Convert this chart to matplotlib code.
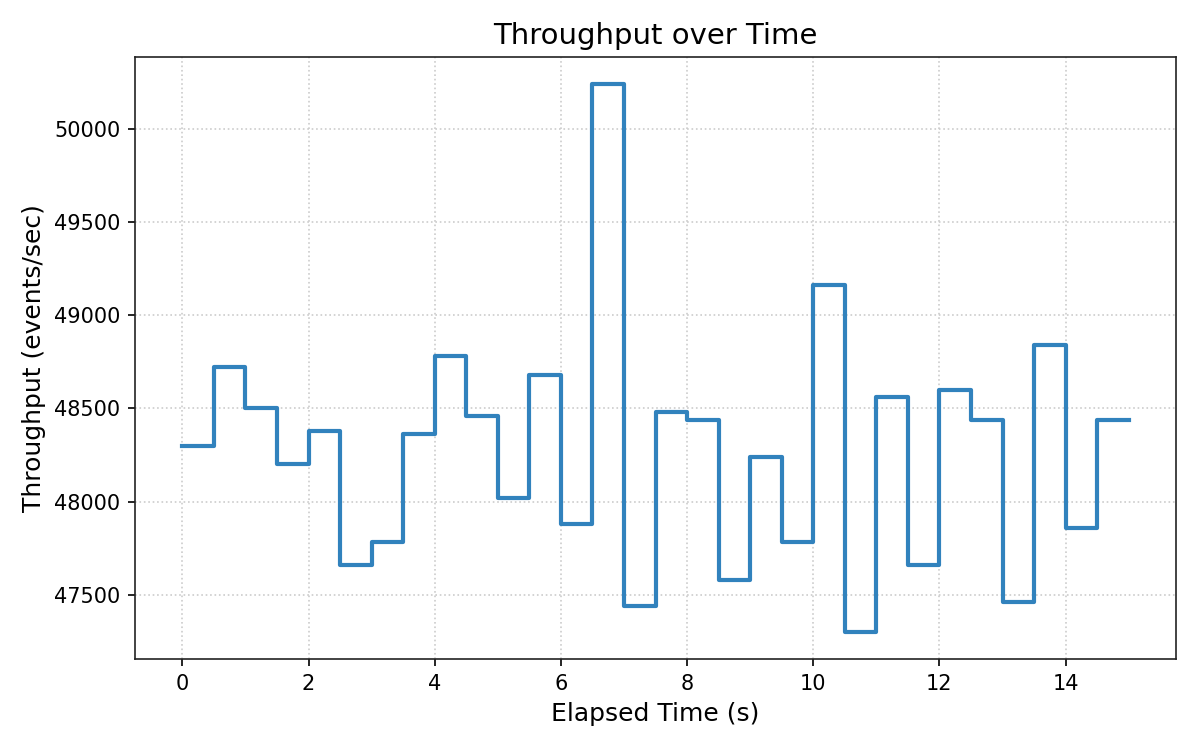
import matplotlib
matplotlib.use("Agg")
import matplotlib.pyplot as plt
import numpy as np

time_s = [0, 0.5, 1, 1.5, 2, 2.5, 3, 3.5, 4, 4.5, 5, 5.5, 6, 6.5, 7, 7.5,
          8, 8.5, 9, 9.5, 10, 10.5, 11, 11.5, 12, 12.5, 13, 13.5, 14, 14.5, 15]
throughput = [48300, 48720, 48500, 48200, 48380, 47660, 47780, 48360, 48780, 48460,
              48020, 48680, 47880, 50240, 47440, 48480, 48440, 47580, 48240, 47780,
              49160, 47300, 48560, 47660, 48600, 48440, 47460, 48840, 47860, 48440, 48440]

fig, ax = plt.subplots(figsize=(8, 5), dpi=150)
ax.step(time_s, throughput, where="post", color="#3182bd", linewidth=2)
ax.grid(True, linestyle=":", color="#cccccc", linewidth=0.8)
ax.set_title("Throughput over Time", fontsize=14)
ax.set_xlabel("Elapsed Time (s)", fontsize=12)
ax.set_ylabel("Throughput (events/sec)", fontsize=12)
for s in ax.spines.values():
    s.set_color("#222222")
fig.subplots_adjust(left=0.1125, right=0.98, top=0.924, bottom=0.121)
fig.savefig("out.png", dpi=150)
